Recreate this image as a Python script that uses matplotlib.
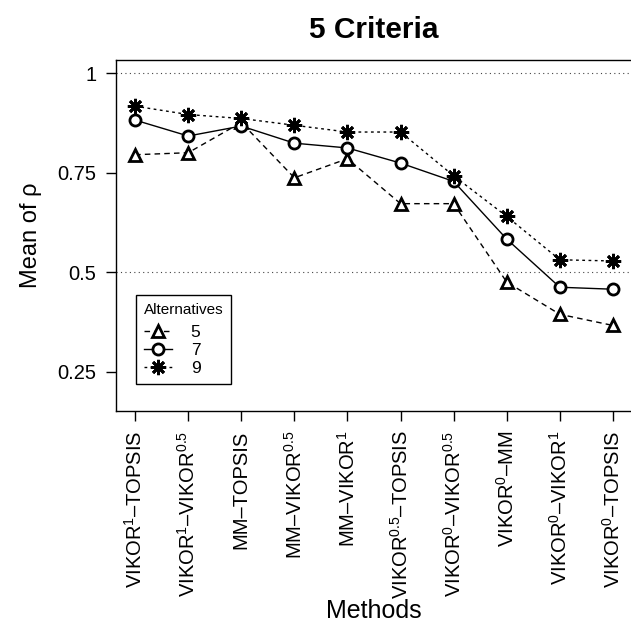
import matplotlib
matplotlib.use('Agg')
import matplotlib.pyplot as plt
import numpy as np

plt.rcParams['font.family'] = ['Liberation Sans', 'DejaVu Sans']
plt.rcParams['mathtext.fontset'] = 'custom'
plt.rcParams['mathtext.rm'] = 'Liberation Sans'
plt.rcParams['mathtext.it'] = 'Liberation Sans:italic'
plt.rcParams['mathtext.bf'] = 'Liberation Sans:bold'

methods = [r'VIKOR$^{1}$–TOPSIS', r'VIKOR$^{1}$–VIKOR$^{0.5}$', 'MM–TOPSIS',
           r'MM–VIKOR$^{0.5}$', r'MM–VIKOR$^{1}$', r'VIKOR$^{0.5}$–TOPSIS',
           r'VIKOR$^{0}$–VIKOR$^{0.5}$', r'VIKOR$^{0}$–MM',
           r'VIKOR$^{0}$–VIKOR$^{1}$', r'VIKOR$^{0}$–TOPSIS']

alt5 = [0.795, 0.800, 0.876, 0.737, 0.785, 0.672, 0.672, 0.475, 0.394, 0.366]
alt7 = [0.882, 0.842, 0.867, 0.824, 0.812, 0.774, 0.728, 0.583, 0.462, 0.457]
alt9 = [0.917, 0.896, 0.886, 0.869, 0.852, 0.852, 0.742, 0.640, 0.531, 0.528]

x = np.arange(1, len(methods) + 1)

fig = plt.figure(figsize=(6.31, 6.24), dpi=100)
ax = fig.add_axes([116 / 631, 1 - 411 / 624, 516 / 631, 351 / 624])

# reference lines
for h in [0.5, 1.0]:
    ax.axhline(h, color='#444444', lw=0.8, ls=(0, (1, 3)), zorder=1)

ax.plot(x, alt5, color='black', lw=1, ls=(0, (4, 3)), marker='^', ms=9,
        mfc='white', mec='black', mew=2, label='5', zorder=3)
ax.plot(x, alt7, color='black', lw=1, ls='-', marker='o', ms=8,
        mfc='white', mec='black', mew=2, label='7', zorder=3)
ax.plot(x, alt9, color='black', lw=1, ls=(0, (2, 2.5)), marker=(8, 2, 0), ms=11,
        mec='black', mew=2, label='9', zorder=3)

ax.set_xlim(0.64, 10.36)
ax.set_ylim(0.151, 1.033)
ax.set_xticks(x)
ax.set_xticklabels(methods, rotation=90, fontsize=14.5)
ax.set_yticks([0.25, 0.5, 0.75, 1.0])
ax.set_yticklabels(['0.25', '0.5', '0.75', '1'], fontsize=14.5)
ax.tick_params(length=7.5, width=1, pad=6.5)
for s in ax.spines.values():
    s.set_linewidth(1)
    s.set_color('black')

ax.set_xlabel('Methods', fontsize=18, labelpad=0)
ax.set_ylabel('Mean of ρ', fontsize=17, labelpad=11)
ax.set_title('5 Criteria', fontsize=21.5, fontweight='bold', pad=16)

leg = ax.legend(title='Alternatives', loc='upper left',
                bbox_to_anchor=(136 / 631, 1 - 295 / 624),
                bbox_transform=fig.transFigure, fancybox=False,
                edgecolor='black', fontsize=12.5, title_fontsize=11,
                handlelength=1.6, handletextpad=1.1, labelspacing=0.18,
                borderpad=0.45, borderaxespad=0, framealpha=1,
                alignment='left')
leg.get_frame().set_linewidth(1)
leg._legend_box.sep = 5.5

fig.savefig('out.png', dpi=100)
